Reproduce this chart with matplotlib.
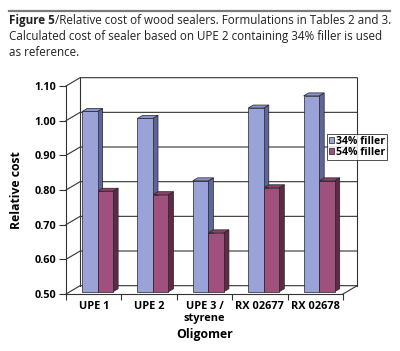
import matplotlib.pyplot as plt
from matplotlib.patches import Polygon
from matplotlib.lines import Line2D

# data
categories = ['UPE 1', 'UPE 2', 'UPE 3 /\nstyrene', 'RX 02677', 'RX 02678']
filler_34 = [1.02, 1.00, 0.82, 1.03, 1.065]
filler_54 = [0.79, 0.78, 0.67, 0.80, 0.82]
series_names = ['34% filler', '54% filler']
y_ticks = [0.50, 0.60, 0.70, 0.80, 0.90, 1.00, 1.10]

plt.rcParams['font.family'] = ['Open Sans', 'DejaVu Sans']

fig = plt.figure(figsize=(4.0, 3.51), dpi=100)
W, H = 400, 351

# caption
fig.add_artist(Line2D([9 / W, 390 / W], [1 - 11 / H, 1 - 11 / H], color='#7a7a7a', lw=1.6))
t1 = fig.text(9 / W, 1 - 24 / H, 'Figure 5', fontsize=8.4, fontweight='bold', color='#222222')
fig.canvas.draw()
bb = t1.get_window_extent()
fig.text(bb.x1 / W, 1 - 24 / H, '/Relative cost of wood sealers. Formulations in Tables 2 and 3.',
         fontsize=8.4, color='#222222')
fig.text(9 / W, 1 - 40 / H, 'Calculated cost of sealer based on UPE 2 containing 34% filler is used',
         fontsize=8.4, color='#222222')
fig.text(9 / W, 1 - 56 / H, 'as reference.', fontsize=8.4, color='#222222')

# front plane of the 3d box
ax = fig.add_axes([66 / W, 1 - 294 / H, 277 / W, 208 / H])
ax.set_xlim(-0.5, len(categories) - 0.5)
ax.set_ylim(y_ticks[0], y_ticks[-1])
ax.patch.set_visible(False)

DX = 0.255   # depth in category units
DY = 0.024   # depth in value units
x0, x1 = -0.5, len(categories) - 0.5
line_kw = dict(color='#333333', lw=0.8, clip_on=False, zorder=1)

# gridlines on side wall and back wall
for v in y_ticks:
    ax.plot([x0, x0 + DX, x1 + DX], [v, v + DY, v + DY], **line_kw)
ax.plot([x0 + DX, x0 + DX], [y_ticks[0] + DY, y_ticks[-1] + DY], **line_kw)
ax.plot([x1 + DX, x1 + DX], [y_ticks[0] + DY, y_ticks[-1] + DY], **line_kw)
ax.plot([x1, x1 + DX], [y_ticks[0], y_ticks[0] + DY], **line_kw)

# bars
bw = 0.28
front_d = 0.27
bar_d = 0.36
colors = [('#9aa3d8', '#5d6699', '#8a93cc'), ('#a0507c', '#5e2a46', '#8a4068')]
base = y_ticks[0]
for i in range(len(categories)):
    for j, vals in enumerate([filler_34, filler_54]):
        front, side, top = colors[j]
        left = i - bw + j * bw + front_d * DX
        bottom = base + front_d * DY
        topv = vals[i] + front_d * DY
        ddx, ddy = bar_d * DX, bar_d * DY
        ax.add_patch(Polygon([(left + bw, bottom), (left + bw + ddx, bottom + ddy),
                              (left + bw + ddx, topv + ddy), (left + bw, topv)],
                             closed=True, fc=side, ec='#222222', lw=0.5, zorder=3))
        ax.add_patch(Polygon([(left, topv), (left + ddx, topv + ddy),
                              (left + bw + ddx, topv + ddy), (left + bw, topv)],
                             closed=True, fc=top, ec='#222222', lw=0.5, zorder=3))
        ax.bar(left, vals[i] - base, width=bw, bottom=bottom, align='edge',
               color=front, edgecolor='#222222', linewidth=0.5, zorder=4,
               label=series_names[j] if i == 0 else None)

for s in ['top', 'right']:
    ax.spines[s].set_visible(False)
for s in ['left', 'bottom']:
    ax.spines[s].set_color('#333333')
    ax.spines[s].set_linewidth(0.8)

ax.set_yticks(y_ticks)
ax.set_yticklabels(['%.2f' % v for v in y_ticks], fontsize=7.8, fontweight='bold')
ax.tick_params(axis='y', length=5, width=0.8, color='#333333', pad=2)
ax.set_xticks(range(len(categories)))
ax.set_xticklabels(categories, fontsize=7.9, fontweight='bold', linespacing=1.1)
ax.set_xticks([k - 0.5 for k in range(len(categories) + 1)], minor=True)
ax.tick_params(axis='x', which='major', length=0, pad=5)
ax.tick_params(axis='x', which='minor', length=4, width=0.8, color='#333333')

ax.set_ylabel('Relative cost', fontsize=8.8, fontweight='bold', labelpad=8)
ax.set_xlabel('Oligomer', fontsize=8.8, fontweight='bold', labelpad=3)

leg = ax.legend(loc='upper left', bbox_to_anchor=(327 / W, 1 - 134 / H), bbox_transform=fig.transFigure,
                frameon=True, fancybox=False, fontsize=7.6, handlelength=0.5, handleheight=0.5,
                handletextpad=0.25, borderpad=0.15, labelspacing=0.05, borderaxespad=0)
leg.get_frame().set_edgecolor('#222222')
leg.get_frame().set_linewidth(0.7)
for txt in leg.get_texts():
    txt.set_fontweight('bold')

fig.savefig('out.png', dpi=100)
